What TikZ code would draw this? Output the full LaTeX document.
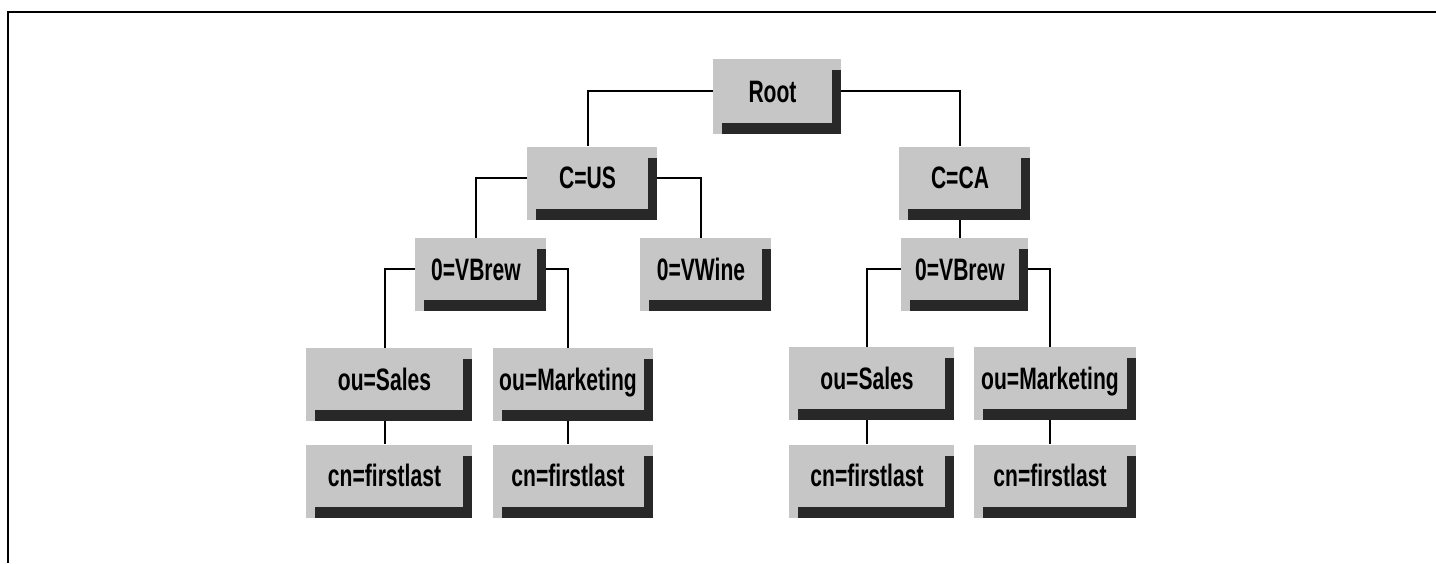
\documentclass[tikz,border=0pt]{standalone}
\usepackage{fontspec}
\newfontfamily\boxfont[FakeStretch=0.68]{Liberation Sans}
\usetikzlibrary{shadows,backgrounds}
\definecolor{facegray}{RGB}{198,198,198}
\definecolor{edgedark}{RGB}{40,40,40}
\begin{document}
\begin{tikzpicture}[x=1pt,y=-1pt,
  dnbox/.style={rectangle, fill=facegray, inner sep=0pt, minimum height=62pt,
    text height=22pt, text depth=0pt, text=black,
    font=\boxfont\bfseries\fontsize{31}{33}\selectfont,
    general shadow={shadow xshift=9pt, fill=facegray, opacity=1},
    general shadow={shadow yshift=-11pt, fill=facegray, opacity=1},
    general shadow={shadow xshift=9pt, shadow yshift=-11pt, fill=edgedark, opacity=1}},
  link/.style={line width=2pt, black},
  frameline/.style={line width=2.5pt, black}]
\useasboundingbox (0,0) rectangle (1436,563);
% outer frame (top and left edges)
\draw[frameline] (8,563) -- (8,12) -- (1436,12);

% directory tree
\node[dnbox, minimum width=119pt, minimum height=64pt] (root) at (772.5,91) {Root};
\node[dnbox, minimum width=121pt] (cus) at (587.5,177.5) {C=US};
\node[dnbox, minimum width=122pt] (cca) at (960,177.5) {C=CA};
\node[dnbox, minimum width=122pt] (usorg) at (476,269) {0=VBrew};
\node[dnbox, minimum width=122pt] (uswine) at (701,269) {0=VWine};
\node[dnbox, minimum width=118pt] (caorg) at (960,269) {0=VBrew};
\node[dnbox, minimum width=157pt] (ussales) at (384.5,379) {ou=Sales};
\node[dnbox, minimum width=151pt] (usmkt) at (568,379) {ou=Marketing};
\node[dnbox, minimum width=157pt] (ussalescn) at (384.5,475.5) {cn=firstlast};
\node[dnbox, minimum width=151pt] (usmktcn) at (568,475.5) {cn=firstlast};
\node[dnbox, minimum width=156pt] (casales) at (867,378) {ou=Sales};
\node[dnbox, minimum width=153pt] (camkt) at (1050,378) {ou=Marketing};
\node[dnbox, minimum width=156pt] (casalescn) at (867,475.5) {cn=firstlast};
\node[dnbox, minimum width=153pt] (camktcn) at (1050,475.5) {cn=firstlast};

\begin{pgfonlayer}{background}
  \draw[link] (root) -| (cus);
  \draw[link] (root) -| (cca);
  \draw[link] (cus) -| (usorg);
  \draw[link] (cus) -| (uswine);
  \draw[link] (cca) -- (caorg);
  \draw[link] (usorg) -| (ussales);
  \draw[link] (usorg) -| (usmkt);
  \draw[link] (ussales) -- (ussalescn);
  \draw[link] (usmkt) -- (usmktcn);
  \draw[link] (caorg) -| (casales);
  \draw[link] (caorg) -| (camkt);
  \draw[link] (casales) -- (casalescn);
  \draw[link] (camkt) -- (camktcn);
\end{pgfonlayer}
\end{tikzpicture}
\end{document}
